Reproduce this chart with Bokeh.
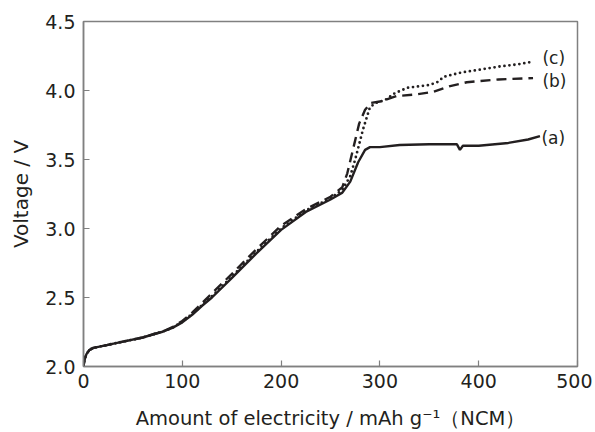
from bokeh.plotting import figure
from bokeh.models import Range1d, ColumnDataSource
from bokeh.core.properties import value
from bokeh.embed import file_html
from bokeh.resources import INLINE

# capacity (mAh/g) and voltage (V) for each curve
a_x = [0, 1, 3, 6, 10, 20, 40, 60, 70, 80, 90, 100, 110, 120, 130, 150, 175, 200, 225, 250, 262, 270, 278, 285, 290, 300, 320, 350, 378, 381, 384, 400, 430, 450, 462]
a_y = [2.0, 2.05, 2.09, 2.12, 2.135, 2.15, 2.18, 2.21, 2.232, 2.252, 2.28, 2.32, 2.375, 2.44, 2.50, 2.64, 2.82, 2.99, 3.12, 3.21, 3.26, 3.34, 3.48, 3.57, 3.59, 3.59, 3.605, 3.61, 3.61, 3.57, 3.60, 3.60, 3.62, 3.645, 3.67]

b_x = [0, 1, 3, 6, 10, 20, 40, 60, 70, 80, 90, 100, 110, 120, 130, 150, 175, 200, 225, 250, 262, 267, 273, 279, 285, 291, 300, 317, 335, 354, 370, 388, 420, 455]
b_y = [2.0, 2.05, 2.09, 2.12, 2.135, 2.15, 2.18, 2.21, 2.232, 2.252, 2.285, 2.33, 2.39, 2.46, 2.53, 2.67, 2.85, 3.02, 3.14, 3.23, 3.30, 3.40, 3.58, 3.76, 3.86, 3.91, 3.92, 3.96, 3.97, 3.99, 4.03, 4.06, 4.08, 4.09]

c_x = [0, 1, 3, 6, 10, 20, 40, 60, 70, 80, 90, 100, 110, 120, 130, 150, 175, 200, 225, 250, 262, 270, 275, 283, 290, 296, 305, 315, 328, 350, 358, 365, 382, 400, 422, 440, 456]
c_y = [2.0, 2.05, 2.09, 2.12, 2.135, 2.15, 2.18, 2.21, 2.232, 2.252, 2.28, 2.325, 2.38, 2.445, 2.51, 2.65, 2.83, 3.00, 3.13, 3.22, 3.28, 3.38, 3.50, 3.72, 3.88, 3.91, 3.93, 3.98, 4.02, 4.04, 4.06, 4.10, 4.13, 4.15, 4.175, 4.19, 4.21]

series_labels = ["(a)", "(b)", "(c)"]
x_ticks = [0, 100, 200, 300, 400, 500]
y_ticks = [2.0, 2.5, 3.0, 3.5, 4.0, 4.5]

INK = "#231f20"
FRAME = "#808080"
FONT = "DejaVu Sans"

p = figure(width=592, height=432, output_backend="svg", toolbar_location=None,
           x_range=Range1d(0, 500), y_range=Range1d(2.0, 4.5),
           min_border_left=83, min_border_right=15, min_border_top=21, min_border_bottom=66)
p.grid.visible = False
p.outline_line_color = FRAME
p.outline_line_width = 1.5
p.background_fill_color = "white"
p.border_fill_color = "white"

p.line(a_x, a_y, line_color=INK, line_width=2.4)
p.line(b_x, b_y, line_color=INK, line_width=2.4, line_dash="10 6")
p.line(c_x, c_y, line_color=INK, line_width=2.8, line_dash="0 5", line_cap="round")

# curve labels
lab_src = ColumnDataSource(dict(x=[463.5, 464.5, 464.5], y=[3.657, 4.071, 4.238], t=series_labels))
p.text(x="x", y="y", text="t", source=lab_src, text_font=value(FONT), text_font_size="17px",
       text_color=INK, text_baseline="middle", text_align="left")

p.xaxis.ticker = x_ticks
p.yaxis.ticker = y_ticks
p.yaxis.major_label_overrides = {t: f"{t:.1f}" for t in y_ticks}
for ax in (p.xaxis[0], p.yaxis[0]):
    ax.axis_line_color = FRAME
    ax.axis_line_width = 1.5
    ax.major_tick_line_color = FRAME
    ax.major_tick_line_width = 1.2
    ax.major_tick_in = 6
    ax.major_tick_out = 0
    ax.minor_tick_line_color = None
    ax.major_label_text_font = FONT
    ax.major_label_text_font_size = "19px"
    ax.major_label_text_color = INK
    ax.axis_label_text_font = FONT
    ax.axis_label_text_font_style = "normal"
    ax.axis_label_text_color = INK

p.xaxis.axis_label_text_font_size = "19.5px"
p.yaxis.axis_label_text_font_size = "20px"
p.xaxis.axis_label = "Amount of electricity / mAh g\u207b\u00b9\uff08NCM\uff09"
p.yaxis.axis_label = "Voltage / V"
p.xaxis.major_label_standoff = 7
p.yaxis.major_label_standoff = 8
p.xaxis.axis_label_standoff = 16
p.yaxis.axis_label_standoff = 9

open("out.html", "w").write(file_html(p, INLINE))
